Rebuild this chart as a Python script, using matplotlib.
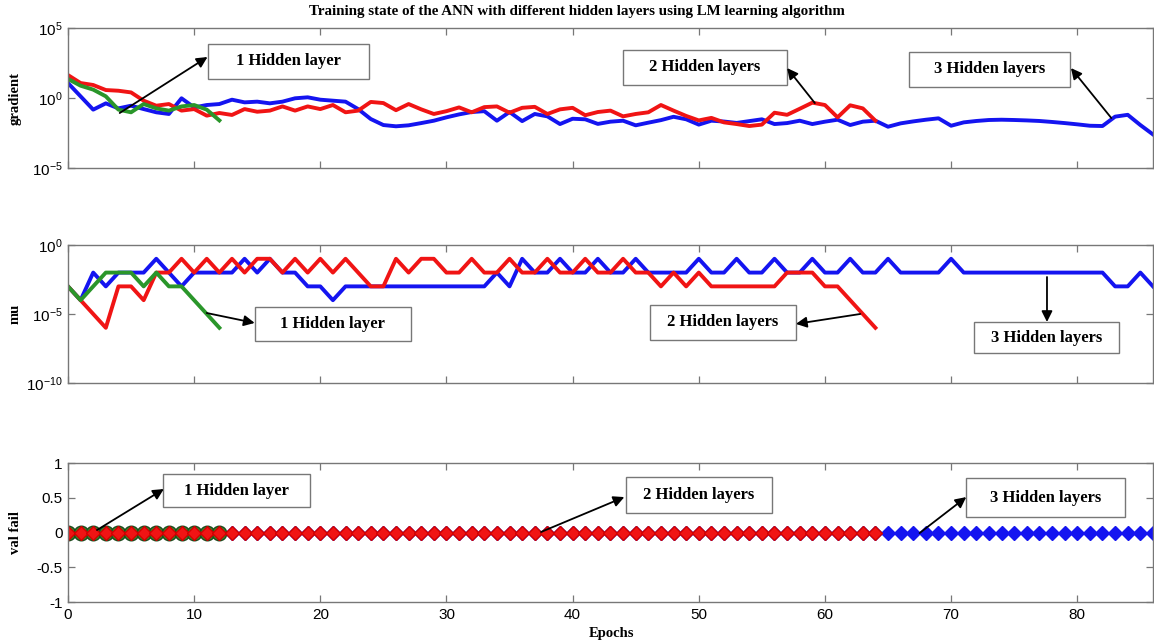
import numpy as np
import matplotlib
matplotlib.use('Agg')
import matplotlib.pyplot as plt
from matplotlib.ticker import NullLocator, FixedLocator
from matplotlib.transforms import blended_transform_factory
from matplotlib.patches import Rectangle

plt.rcParams['font.family'] = ['Liberation Sans', 'DejaVu Sans']
plt.rcParams['mathtext.default'] = 'regular'
plt.rcParams['axes.unicode_minus'] = False

# gradient readings, log10 of value per epoch
grad_1hl_log10 = [1.36, 0.88, 0.60, 0.12, -0.83, -1.02, -0.43, -0.74, -0.90, -0.60, -0.50, -0.83, -1.60]
grad_2hl_log10 = [1.64, 1.07, 0.93, 0.57, 0.52, 0.40, -0.19, -0.55, -0.43, -0.90,
                  -0.79, -1.26, -1.07, -1.21, -0.79, -0.98, -0.90, -0.60, -0.90, -0.60,
                  -0.79, -0.50, -1.02, -0.90, -0.28, -0.36, -0.87, -0.43, -0.81, -1.14,
                  -0.94, -0.67, -1.02, -0.65, -0.60, -1.05, -0.70, -0.63, -1.14, -0.81,
                  -0.70, -1.23, -1.00, -0.90, -1.31, -1.14, -1.02, -0.50, -0.90, -1.28,
                  -1.60, -1.42, -1.74, -1.86, -2.00, -1.90, -1.05, -1.20, -0.77, -0.33,
                  -0.50, -1.38, -0.52, -0.74, -1.62]
grad_3hl_log10 = [1.07, 0.12, -0.83, -0.38, -0.74, -0.55, -0.79, -1.02, -1.14, -0.02,
                  -0.67, -0.50, -0.43, -0.12, -0.31, -0.26, -0.38, -0.26, -0.02, 0.05,
                  -0.12, -0.19, -0.26, -0.79, -1.50, -1.93, -2.02, -1.95, -1.79, -1.62,
                  -1.38, -1.17, -1.00, -0.94, -1.62, -1.00, -1.65, -1.14, -1.31, -1.86,
                  -1.48, -1.52, -1.85, -1.69, -1.62, -1.95, -1.76, -1.58, -1.34, -1.52,
                  -1.90, -1.62, -1.68, -1.78, -1.65, -1.52, -1.86, -1.79, -1.62, -1.86,
                  -1.69, -1.55, -1.93, -1.69, -1.62, -2.05, -1.81, -1.67, -1.55, -1.45,
                  -1.98, -1.74, -1.64, -1.57, -1.55, -1.57, -1.60, -1.64, -1.71, -1.79,
                  -1.88, -1.98, -2.00, -1.33, -1.20, -1.93, -2.60]

# mu exponents per epoch
mu_1hl_exp = [-3, -4, -3, -2, -2, -2, -3, -2, -3, -3, -4, -5, -6]
mu_2hl_exp = [-3, -4, -5, -6, -3, -3, -4, -2, -2, -1,
              -2, -1, -2, -1, -2, -1, -1, -2, -1, -2,
              -1, -2, -1, -2, -3, -3, -1, -2, -1, -1,
              -2, -2, -1, -2, -2, -1, -2, -2, -1, -2,
              -2, -1, -2, -2, -1, -2, -2, -3, -2, -3,
              -2, -3, -3, -3, -3, -3, -3, -2, -2, -2,
              -3, -3, -4, -5, -6]
mu_3hl_exp = [-3, -4, -2, -3, -2, -2, -2, -1, -2, -3,
              -2, -2, -2, -2, -1, -2, -1, -2, -2, -3,
              -3, -4, -3, -3, -3, -3, -3, -3, -3, -3,
              -3, -3, -3, -3, -2, -3, -1, -2, -2, -1,
              -2, -2, -1, -2, -2, -1, -2, -2, -2, -2,
              -1, -2, -2, -1, -2, -2, -1, -2, -2, -1,
              -2, -2, -1, -2, -2, -1, -2, -2, -2, -2,
              -1, -2, -2, -2, -2, -2, -2, -2, -2, -2,
              -2, -2, -2, -3, -3, -2, -3]

# validation fails
val_1hl = [0] * 13
val_2hl = [0] * 65
val_3hl = [0] * 87

BLUE = '#1414f0'
RED = '#f01414'
GREEN = '#2a962a'
SERIF = 'Liberation Serif'
EDGE = '#777777'

fig = plt.figure(figsize=(11.54, 6.44), dpi=100)
ax1 = fig.add_axes([0.0589, 0.7391, 0.9402, 0.2174])
ax2 = fig.add_axes([0.0589, 0.4053, 0.9402, 0.2143])
ax3 = fig.add_axes([0.0589, 0.0652, 0.9402, 0.2158])

e1 = np.arange(len(grad_1hl_log10))
e2 = np.arange(len(grad_2hl_log10))
e3 = np.arange(len(grad_3hl_log10))

lw = 2.8
ax1.plot(e3, 10.0 ** np.array(grad_3hl_log10), color=BLUE, lw=lw)
ax1.plot(e2, 10.0 ** np.array(grad_2hl_log10), color=RED, lw=lw)
ax1.plot(e1, 10.0 ** np.array(grad_1hl_log10), color=GREEN, lw=lw)

ax2.plot(e3, 10.0 ** np.array(mu_3hl_exp, dtype=float), color=BLUE, lw=lw)
ax2.plot(e2, 10.0 ** np.array(mu_2hl_exp, dtype=float), color=RED, lw=lw)
ax2.plot(e1, 10.0 ** np.array(mu_1hl_exp, dtype=float), color=GREEN, lw=lw)

ax3.plot(np.arange(len(val_3hl)), val_3hl, 'D', color=BLUE, ms=7.5, mec=BLUE)
ax3.plot(np.arange(len(val_1hl)), val_1hl, 'o', mfc=GREEN, mec='#1e4a1e', ms=10.5, mew=1)
ax3.plot(np.arange(len(val_2hl)), val_2hl, 'D', color=RED, ms=7.5, mec='#d00000')

for ax in (ax1, ax2, ax3):
    ax.set_xlim(0, 86)
    ax.xaxis.set_major_locator(FixedLocator(range(0, 90, 10)))
    ax.tick_params(direction='in', top=True, right=True, length=5, width=0.9,
                   color=EDGE, labelsize=11, pad=4)
    for s in ax.spines.values():
        s.set_color(EDGE)
        s.set_linewidth(1)
    ax.yaxis.set_label_coords(-0.0426, 0.5)

ax1.set_yscale('log')
ax1.set_ylim(1e-5, 1e5)
ax1.set_yticks([1e-5, 1, 1e5])
ax1.yaxis.set_minor_locator(NullLocator())
ax1.tick_params(labelbottom=False)

ax2.set_yscale('log')
ax2.set_ylim(1e-10, 1)
ax2.set_yticks([1e-10, 1e-5, 1])
ax2.yaxis.set_minor_locator(NullLocator())
ax2.tick_params(labelbottom=False)

ax3.set_ylim(-1, 1)
ax3.set_yticks([-1, -0.5, 0, 0.5, 1])
ax3.set_yticklabels(['-1', '-0.5', '0', '0.5', '1'])

lab = dict(fontfamily=SERIF, fontweight='bold', fontsize=10.5)
ax1.set_ylabel('gradient', **lab)
ax2.set_ylabel('mu', **lab)
ax3.set_ylabel('val fail', **lab)

fig.text(0.5, 1 - 12 / 644, 'Training state of the ANN with different hidden layers using LM learning algorithm',
         ha='center', va='center', fontfamily=SERIF, fontweight='bold', fontsize=10.8)
fig.text(611 / 1154, 1 - 634 / 644, 'Epochs', ha='center', va='center', **lab)


def label_box(ax, x0, x1, y0, y1, text):
    tr = blended_transform_factory(ax.transData, ax.transAxes)
    ax.add_patch(Rectangle((x0, y0), x1 - x0, y1 - y0, transform=tr, fc='white',
                           ec=EDGE, lw=1, zorder=5, clip_on=False))
    ax.text((x0 + x1) / 2, (y0 + y1) / 2, text, transform=tr, ha='center', va='center',
            fontfamily=SERIF, fontweight='bold', fontsize=12, zorder=6)


def arrow(ax, tail, head):
    tr = blended_transform_factory(ax.transData, ax.transAxes)
    ax.annotate('', xy=head, xytext=tail, xycoords=tr, textcoords=tr,
                arrowprops=dict(arrowstyle='-|>', color='black', lw=1.3,
                                mutation_scale=16, shrinkA=0, shrinkB=0), zorder=7)


# gradient panel
label_box(ax1, 11.06, 23.9, 0.636, 0.886, '1 Hidden layer')
arrow(ax1, (4.1, 0.393), (11.06, 0.793))
label_box(ax1, 44.0, 57.0, 0.593, 0.843, '2 Hidden layers')
arrow(ax1, (59.2, 0.464), (57.0, 0.714))
label_box(ax1, 66.7, 79.4, 0.579, 0.829, '3 Hidden layers')
arrow(ax1, (82.7, 0.357), (79.5, 0.714))

# mu panel
label_box(ax2, 14.8, 27.2, 0.304, 0.551, '1 Hidden layer')
arrow(ax2, (11.0, 0.507), (14.8, 0.435))
label_box(ax2, 46.1, 57.7, 0.312, 0.565, '2 Hidden layers')
arrow(ax2, (62.8, 0.5), (57.7, 0.428))
label_box(ax2, 71.8, 83.3, 0.217, 0.442, '3 Hidden layers')
arrow(ax2, (77.6, 0.768), (77.6, 0.442))

# val fail panel
label_box(ax3, 7.5, 19.2, 0.683, 0.921, '1 Hidden layer')
arrow(ax3, (2.3, 0.518), (7.6, 0.813))
label_box(ax3, 44.2, 55.8, 0.640, 0.899, '2 Hidden layers')
arrow(ax3, (37.5, 0.504), (44.1, 0.755))
label_box(ax3, 71.2, 83.8, 0.612, 0.892, '3 Hidden layers')
arrow(ax3, (67.5, 0.496), (71.2, 0.755))

fig.savefig('out.png', dpi=100)
